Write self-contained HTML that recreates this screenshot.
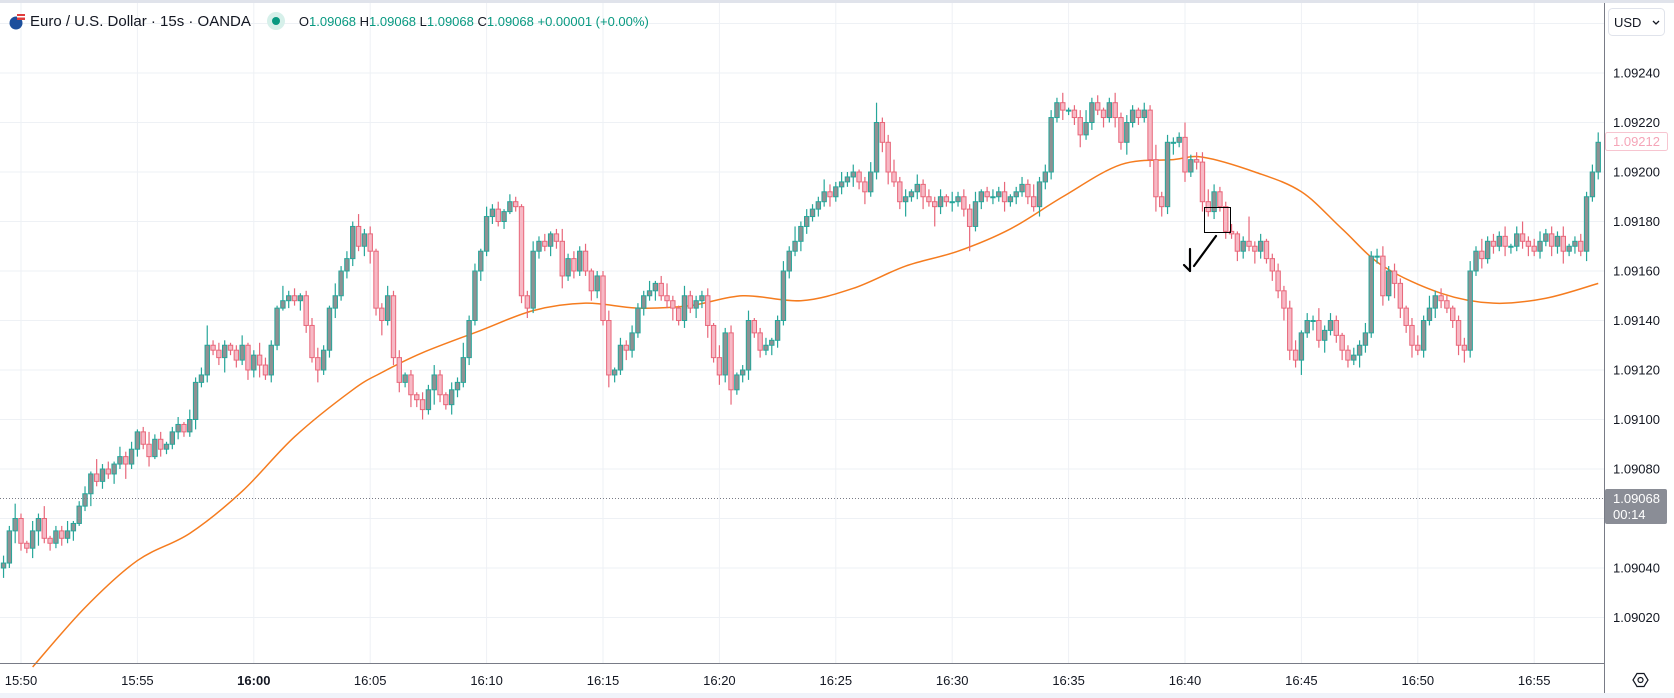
<!DOCTYPE html>
<html><head><meta charset="utf-8">
<style>
html,body{margin:0;padding:0;background:#fff;}
body{width:1674px;height:698px;overflow:hidden;position:relative;font-family:"Liberation Sans",sans-serif;}
#hdr{position:absolute;left:8px;top:10px;height:22px;display:flex;align-items:center;font-size:15px;color:#131722;white-space:nowrap;}
.ohlc{font-size:13px;color:#089981;margin-left:6px;}
.ohlc b{font-weight:normal;color:#131722;}
</style></head>
<body>
<svg id="chart" width="1674" height="698" style="position:absolute;left:0;top:0" font-family="Liberation Sans, sans-serif">
  <rect x="0" y="0" width="1674" height="3" fill="#e0e3eb"/>
  <g id="grid"></g>
  <g id="ma"></g>
  <g id="candles"></g>
  <line x1="0" y1="498.5" x2="1604" y2="498.5" stroke="#787b86" stroke-dasharray="1,2"/>
  <g>
    <rect x="1204.5" y="207.5" width="26" height="25" fill="none" stroke="#000" stroke-width="1"/>
  </g>
  <g stroke="#000" stroke-width="2.2" fill="none" stroke-linecap="round">
    <line x1="1216" y1="236" x2="1194" y2="266"/>
    <line x1="1190" y1="249" x2="1190" y2="271"/>
    <line x1="1184" y1="265" x2="1190" y2="271"/>
  </g>
  <line x1="0" y1="663.5" x2="1604" y2="663.5" stroke="#787b86"/>
  <line x1="1604.5" y1="3" x2="1604.5" y2="693" stroke="#787b86"/>
  <rect x="0" y="693" width="1674" height="5" fill="#f0f3fa"/>
  <g id="yaxis"></g>
  <g id="xaxis"></g>
  <g>
    <rect x="1608.5" y="8.5" width="56" height="27" rx="4" fill="#fff" stroke="#e0e3eb"/>
    <text x="1614" y="27" font-size="13" fill="#131722">USD</text>
    <path d="M1653 21 l3 3 l3 -3" stroke="#131722" stroke-width="1.3" fill="none"/>
  </g>
  <g>
    <rect x="1605.5" y="132.5" width="62" height="18" rx="2" fill="#fff" stroke="#f7c5d0"/>
    <text x="1613" y="146" font-size="13" fill="#f5a5b8">1.09212</text>
  </g>
  <g>
    <rect x="1605" y="489" width="62" height="35" rx="2" fill="#8a8d96"/>
    <text x="1613" y="503" font-size="13" fill="#fff">1.09068</text>
    <text x="1613" y="519" font-size="13" fill="#fff">00:14</text>
  </g>
  <g fill="none" stroke="#131722" stroke-width="1.2">
    <path d="M1633 680 l4 -6.5 h7 l4 6.5 l-4 6.5 h-7 z"/>
    <circle cx="1640.5" cy="680" r="2.5"/>
  </g>
</svg>
<div id="hdr">
  <svg width="18" height="18"><circle cx="8" cy="11" r="6.5" fill="#1d4f9c"/><rect x="9" y="2" width="8" height="6" fill="#e03c3c"/><rect x="9" y="4" width="8" height="1.5" fill="#fff"/></svg>
  <span style="margin-left:4px">Euro / U.S. Dollar · 15s · OANDA</span>
  <span style="display:inline-block;width:18px;height:18px;border-radius:9px;background:#d6f0ea;margin-left:16px;position:relative"><span style="position:absolute;left:5px;top:5px;width:8px;height:8px;border-radius:4px;background:#089981"></span></span>
  <span class="ohlc" style="margin-left:14px"><b>O</b>1.09068 <b>H</b>1.09068 <b>L</b>1.09068 <b>C</b>1.09068 +0.00001 (+0.00%)</span>
</div>
<script>
// prices in units of 0.00001 above 1.09000
const firstOpen = 40;
const closes = [
42,55,60,50,48,55,60,52,50,55,
52,55,58,65,70,78,75,80,78,82,
85,82,88,95,90,85,92,88,90,95,
98,95,100,115,118,130,128,125,130,128,
124,130,120,126,122,118,130,145,148,150,
148,150,138,125,120,128,145,150,160,165,
178,170,175,168,145,140,150,125,115,118,
110,108,104,112,118,110,106,112,115,125,
140,160,168,182,185,180,184,188,186,150,
145,168,172,170,175,172,158,165,160,168,
160,152,158,140,118,120,130,128,135,145,
150,152,155,150,148,145,140,150,145,148,
150,138,125,118,135,112,118,120,140,135,
128,130,132,140,160,168,172,178,182,185,
188,192,190,194,196,198,200,196,192,200,
220,212,200,196,188,190,192,195,190,188,
186,190,188,188,190,185,178,188,192,190,
190,192,188,190,192,195,190,186,196,200,
222,228,225,225,222,215,220,228,225,222,
228,222,212,220,225,222,225,205,190,186,
212,212,214,200,205,204,188,184,192,186,
176,175,168,172,170,168,172,165,160,152,
145,128,124,135,140,140,132,136,140,134,
128,124,126,130,135,166,166,150,160,155,
145,138,130,128,140,145,150,148,145,140,
130,128,160,168,165,172,170,174,170,170,
175,172,170,168,172,175,170,174,168,170,
172,168,190,200,212];
const wickUp = [
3,2,6,2,1,4,2,5,1,2, 2,4,1,2,3,1,6,2,3,1, 4,2,3,1,2,5,2,3,1,2, 3,1,4,2,3,8,2,3,2,1,
2,4,1,2,5,3,2,1,6,2, 3,1,2,3,4,2,1,5,2,3, 2,5,2,3,1,2,4,2,3,1, 2,1,3,2,4,2,1,3,2,6,
2,3,1,4,2,3,1,3,2,1, 2,4,2,3,1,2,5,2,3,2, 3,1,2,2,4,1,3,2,3,2, 2,4,1,3,5,2,1,4,2,2,
2,3,1,5,2,3,1,2,4,1, 2,3,1,2,4,2,6,2,3,2, 2,5,3,2,4,2,3,1,2,4, 8,2,3,5,2,3,1,4,2,3,
2,3,1,4,2,3,2,4,1,2, 3,2,4,1,2,3,2,5,2,3, 3,2,4,1,2,3,5,2,3,1, 2,4,2,3,2,1,3,2,6,2,
3,2,2,6,2,3,4,5,3,2, 2,3,1,2,10,2,3,1,2,3, 2,3,4,1,3,2,5,2,3,2, 1,2,3,2,4,2,3,4,2,3,
2,1,3,4,2,5,2,3,2,1, 2,3,4,2,5,2,3,2,4,1, 3,5,2,3,4,2,3,2,4,1, 2,3,2,3,4];
const wickDn = [
4,2,5,3,2,4,6,2,3,2, 3,2,4,1,2,5,2,3,2,4, 2,6,2,3,2,4,1,3,2,2, 3,2,2,4,2,3,2,3,6,2,
3,2,4,3,5,2,3,2,1,3, 2,4,3,2,5,2,3,4,2,3, 3,2,4,5,3,6,2,3,4,2, 5,3,4,2,6,3,2,4,3,2,
3,2,4,2,3,2,3,1,2,3, 4,2,3,2,4,3,5,2,3,2, 2,4,3,2,5,3,2,4,3,2, 3,2,4,2,3,5,2,3,2,4,
3,5,2,4,3,6,2,3,4,2, 3,2,4,3,2,3,2,4,3,2, 3,2,4,2,3,2,4,3,5,2, 3,4,5,2,3,6,2,3,5,2,
8,3,2,4,2,3,10,2,3,2, 3,2,4,2,3,2,3,2,4,3, 3,2,4,2,3,5,2,3,2,4, 2,4,3,5,2,3,2,3,6,4,
3,5,2,4,2,3,4,2,3,2, 3,2,4,3,2,5,3,2,4,3, 5,4,3,6,2,4,3,5,2,3, 4,3,2,5,3,2,3,4,2,6,
4,3,5,2,3,2,4,3,2,3, 4,5,3,2,4,2,3,2,4,3, 2,3,4,2,3,2,4,3,5,2, 3,2,4,2,3];
const maBars = [5,14,23,32,41,50,60,65,72,82,91,100,109,118,127,137,146,155,164,173,182,192,201,206,215,223,230,237,247,256,265,274];
const maVals = [0,24,43,54,71,93,112,119,127,136,144,147,145,146,150,148,153,162,168,177,190,203,205,206,200,192,177,162,151,147,149,155];
const priceTicks = [20,40,60,80,100,120,140,160,180,200,220,240];
const priceTickLabels = ["1.09020","1.09040","1.09060","1.09080","1.09100","1.09120","1.09140","1.09160","1.09180","1.09200","1.09220","1.09240"];
const timeLabels = ["15:50","15:55","16:00","16:05","16:10","16:15","16:20","16:25","16:30","16:35","16:40","16:45","16:50","16:55"];

const NS = "http://www.w3.org/2000/svg";
function yOf(p){ return 617.5 - (p - 20) * 2.475; }
function xOf(k){ return 21 + 5.82 * (k - 3); }
function mk(tag, attrs, parent){ const e = document.createElementNS(NS, tag); for (const a in attrs) e.setAttribute(a, attrs[a]); parent.appendChild(e); return e; }

const grid = document.getElementById('grid');
for (let p = 20; p <= 260; p += 20) {
  const ln = mk('line', {x1:0, x2:1604, y1:yOf(p), y2:yOf(p), stroke:'#eef1f5', 'stroke-width':1}, grid);
  
  
}
for (let j = 0; j < timeLabels.length; j++) {
  const x = 21 + 116.4 * j;
  const ln = mk('line', {x1:x, x2:x, y1:3, y2:663, stroke:'#eef1f5', 'stroke-width':1}, grid);
  
  
}
const yaxis = document.getElementById('yaxis');
for (let i = 0; i < priceTicks.length; i++) {
  const t = mk('text', {x:1613, y:yOf(priceTicks[i]) + 4.5, 'font-size':13, fill:'#131722'}, yaxis);
  t.textContent = priceTickLabels[i];
  
  
}
const xaxis = document.getElementById('xaxis');
for (let j = 0; j < timeLabels.length; j++) {
  const t = mk('text', {x:21 + 116.4 * j, y:685, 'font-size':13, fill:'#131722', 'text-anchor':'middle', 'font-weight': timeLabels[j] === '16:00' ? 'bold' : 'normal'}, xaxis);
  t.textContent = timeLabels[j];
  
  
}
const cg = document.getElementById('candles');
let prev = firstOpen;
for (let k = 0; k < closes.length; k++) {
  const o = prev, c = closes[k];
  const hi = Math.max(o, c) + wickUp[k], lo = Math.min(o, c) - wickDn[k];
  const up = c >= o;
  const x = xOf(k);
  const col = up ? '#26a69a' : '#e8677a';
  const g = mk('g', {}, cg);
  
  
  mk('line', {x1:x, x2:x, y1:yOf(hi), y2:yOf(lo), stroke:col, 'stroke-width':1.2}, g);
  const top = yOf(Math.max(o, c)), bot = yOf(Math.min(o, c));
  mk('rect', {x:x - 2.2, y:top, width:4.4, height:Math.max(1, bot - top), fill: up ? '#8f9193' : '#f7b9c5', stroke:col, 'stroke-width':1}, g);
  prev = c;
}
// moving average (Catmull-Rom smooth)
const pts = maBars.map((b, i) => [xOf(b), yOf(maVals[i])]);
let d = 'M' + pts[0][0] + ' ' + pts[0][1];
for (let i = 0; i < pts.length - 1; i++) {
  const p0 = pts[Math.max(0, i - 1)], p1 = pts[i], p2 = pts[i + 1], p3 = pts[Math.min(pts.length - 1, i + 2)];
  const c1 = [p1[0] + (p2[0] - p0[0]) / 6, p1[1] + (p2[1] - p0[1]) / 6];
  const c2 = [p2[0] - (p3[0] - p1[0]) / 6, p2[1] - (p3[1] - p1[1]) / 6];
  d += ' C' + c1[0] + ' ' + c1[1] + ' ' + c2[0] + ' ' + c2[1] + ' ' + p2[0] + ' ' + p2[1];
}
const maPath = mk('path', {d:d, fill:'none', stroke:'#f57c1f', 'stroke-width':1.5}, document.getElementById('ma'));


</script>
</body></html>
